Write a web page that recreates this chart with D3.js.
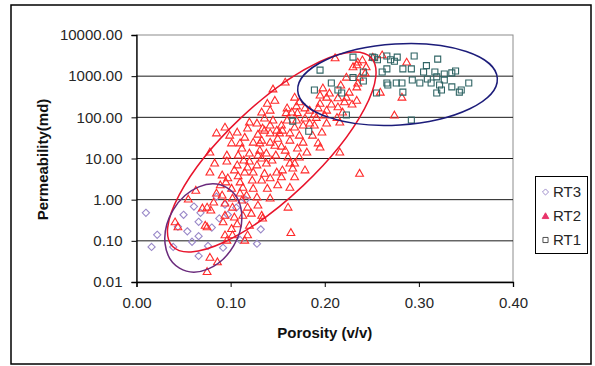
<!DOCTYPE html>
<html><head><meta charset="utf-8">
<script src="https://cdn.jsdelivr.net/npm/d3@7"></script>
<style>body{margin:0;background:#fff}svg{display:block}text{font-family:"Liberation Sans",Arial,sans-serif}</style>
</head><body><svg id="c" width="595" height="366"></svg>
<script>
// ---- data: [porosity (v/v), permeability (md)] ----
const seriesNames = ["RT3","RT2","RT1"];
const rt3 = [[0.010,0.48],[0.022,0.14],[0.016,0.071],[0.039,0.071],[0.050,0.43],[0.044,0.22],[0.061,0.68],[0.054,0.17],[0.059,0.095],[0.066,0.13],[0.066,0.29],[0.068,0.48],[0.066,0.043],[0.085,1.18],[0.088,0.35],[0.097,0.43],[0.094,0.76],[0.092,0.068],[0.080,0.21],[0.132,0.19],[0.128,0.085],[0.106,0.64],[0.116,1.0],[0.076,0.075],[0.110,0.105]];
const rt2 = [[0.145,490],[0.158,720],[0.168,310],[0.195,350],[0.198,520],[0.205,390],[0.214,300],[0.223,310],[0.226,410],[0.234,550],[0.237,950],[0.230,1700],[0.240,2500],[0.244,1700],[0.223,950],[0.211,2800],[0.234,1900],[0.235,680],[0.202,310],[0.251,2900],[0.235,2200],[0.287,2200],[0.259,410],[0.282,310],[0.261,3300],[0.217,610],[0.243,1200],
[0.139,220],[0.142,150],[0.136,96],[0.120,77],[0.128,73],[0.142,65],[0.094,58],[0.085,42],[0.099,37],[0.107,44],[0.129,39],[0.142,42],[0.149,49],[0.110,24],[0.112,18],[0.124,25],[0.131,24],[0.142,25],[0.147,21],[0.147,260],[0.160,170],[0.173,240],[0.179,170],[0.171,130],[0.184,150],[0.195,220],[0.202,150],[0.207,210],[0.214,180],[0.221,240],[0.229,210],[0.234,260],[0.155,49],[0.168,58],[0.160,86],[0.170,86],[0.191,100],[0.202,73],[0.216,77],[0.189,120],[0.200,114],[0.213,100],[0.145,86],[0.177,65],[0.136,49],[0.152,42],[0.173,37],[0.187,37],[0.197,44],[0.150,31],[0.177,25],[0.193,24],[0.154,20],[0.163,28],[0.171,18],[0.118,55],[0.274,114],[0.170,190],[0.184,73],[0.159,130],[0.133,135],[0.115,33],[0.101,24],
[0.078,14.4],[0.096,12.2],[0.108,12.2],[0.120,13.6],[0.131,16],[0.138,13.6],[0.096,8.7],[0.120,8.7],[0.118,6.2],[0.128,7.0],[0.138,7.8],[0.078,4.7],[0.091,4.0],[0.097,3.4],[0.115,4.7],[0.124,4.7],[0.136,4.4],[0.142,3.4],[0.149,4.7],[0.161,10.9],[0.155,5.3],[0.166,5.9],[0.168,3.6],[0.144,9.2],[0.158,16],[0.173,10.9],[0.168,7.8],[0.154,3.6],[0.089,2.3],[0.101,1.9],[0.113,2.0],[0.124,1.9],[0.139,1.9],[0.163,2.0],[0.091,1.3],[0.102,1.1],[0.117,1.3],[0.128,1.16],[0.142,1.1],[0.216,14.4],[0.237,4.4],[0.179,5.3],[0.095,2.7],[0.110,2.7],[0.133,3.0],[0.150,2.3],[0.107,7.0],[0.083,7.8],[0.181,14.4],[0.195,19],[0.104,5.3],[0.129,12.2],
[0.075,0.66],[0.094,0.83],[0.102,0.66],[0.118,0.66],[0.129,0.74],[0.094,0.42],[0.104,0.38],[0.113,0.42],[0.122,0.47],[0.133,0.42],[0.161,0.66],[0.075,0.22],[0.092,0.29],[0.101,0.20],[0.107,0.26],[0.120,0.24],[0.094,0.14],[0.102,0.14],[0.118,0.14],[0.164,0.16],[0.055,1.04],[0.041,0.29],[0.044,0.22],[0.070,0.63],[0.079,0.56],[0.073,0.24],[0.085,1.45],[0.082,0.88],[0.112,0.98],[0.078,0.040],[0.086,0.031],[0.075,0.018],[0.134,0.36],[0.063,1.7],[0.096,0.104],[0.115,0.104],[0.110,1.45],
[0.133,28],[0.163,42],[0.179,96],[0.165,135],[0.114,9.2],[0.133,10.3],[0.148,12.2],[0.163,7.8],[0.123,3.0],[0.108,3.8],[0.154,65],[0.134,55],[0.189,65],[0.219,135],[0.193,170]];
const rt1 = [[0.195,1400],[0.189,460],[0.207,680],[0.218,390],[0.230,930],[0.241,1260],[0.241,760],[0.230,2900],[0.253,2800],[0.223,114],[0.166,81],[0.183,46],[0.251,2900],[0.266,3100],[0.277,2900],[0.274,2300],[0.295,3100],[0.320,2600],[0.266,1500],[0.283,1500],[0.292,1500],[0.308,1800],[0.305,1260],[0.327,1130],[0.339,1340],[0.335,1200],[0.266,680],[0.282,680],[0.283,410],[0.293,810],[0.301,680],[0.309,850],[0.313,680],[0.319,960],[0.322,610],[0.327,810],[0.319,390],[0.324,460],[0.335,550],[0.343,410],[0.353,680],[0.292,86],[0.255,390],[0.267,610],[0.276,680],[0.261,1260],[0.256,2500],[0.270,2500],[0.214,460],[0.317,1260],[0.345,460]];
const xTicks = [0,0.1,0.2,0.3,0.4];
const yTicks = [0.01,0.1,1,10,100,1000,10000];
// cluster outlines: centre in data units
const ellipseCentres = {RT1:[0.2773,628], RT2:[0.1437,14.4], RT3:[0.0710,0.205]};

// ---- layout & style ----
const svg = d3.select("#c");
const L=136.5, R=513, T=35, B=282;
const x = d3.scaleLinear().domain([0,0.4]).range([L,R]);
const y = d3.scaleLog().domain([0.01,10000]).range([B,T]);
const font = '"Liberation Sans",Arial,sans-serif';

svg.append("rect").attr("x",11).attr("y",5).attr("width",580).attr("height",359)
  .attr("fill","#fff").attr("stroke","#000").attr("stroke-width",1.5);

// plot frame (top/right gray)
svg.append("rect").attr("x",L).attr("y",T).attr("width",R-L).attr("height",B-T)
  .attr("fill","none").attr("stroke","#8c8c8c").attr("stroke-width",1);

// gridlines
svg.append("g").selectAll("line").data(yTicks.slice(1,-1)).join("line")
  .attr("x1",L).attr("x2",R).attr("y1",d=>y(d)).attr("y2",d=>y(d))
  .attr("stroke","#1a1a1a").attr("stroke-width",1);

// axes
const fmt = d3.format(".2f");
const gy = svg.append("g").attr("transform",`translate(${L},0)`)
  .call(d3.axisLeft(y).tickValues(yTicks).tickFormat(fmt).tickSize(5).tickPadding(9));
const gx = svg.append("g").attr("transform",`translate(0,${B})`)
  .call(d3.axisBottom(x).tickValues(xTicks).tickFormat(fmt).tickSize(5).tickPadding(10));
[gx,gy].forEach(g=>{
  g.selectAll(".domain").attr("stroke","#000").attr("stroke-width",1.3);
  g.selectAll(".tick line").attr("stroke","#000");
  g.selectAll(".tick text").attr("font-family",font).attr("font-size",15).attr("fill","#262626");
});

// axis titles
svg.append("text").attr("x",(L+R)/2).attr("y",338).attr("text-anchor","middle")
  .attr("font-family",font).attr("font-weight","bold").attr("font-size",15).attr("fill","#111").text("Porosity (v/v)");
svg.append("text").attr("transform",`translate(48,${(T+B)/2+1}) rotate(-90)`).attr("text-anchor","middle")
  .attr("font-family",font).attr("font-weight","bold").attr("font-size",15).attr("fill","#111").text("Permeability(md)");

// marker shapes
const shapes = {
  RT3: "M0,-3.6L3.6,0L0,3.6L-3.6,0Z",
  RT2: "M0,-3.8L3.9,3L-3.9,3Z",
  RT1: "M-3,-3H3V3H-3Z"
};
const colors = {RT3:"#9988c8", RT2:"#ff2a2a", RT1:"#2f6464"};
const data = {RT3:rt3, RT2:rt2, RT1:rt1};
const pts = svg.append("g");
["RT3","RT2","RT1"].forEach(k=>{
  pts.append("g").selectAll("path").data(data[k]).join("path")
    .attr("d",shapes[k]).attr("transform",d=>`translate(${x(d[0])},${y(d[1])})`)
    .attr("fill","none").attr("stroke",colors[k]).attr("stroke-width",1.1);
});

// ellipses
const ellSpec = [
  {k:"RT2", rx:137, ry:46, a:-43.5, c:"#e8142c"},
  {k:"RT3", rx:46.7, ry:35.2, a:-59.3, c:"#6a2a7c"},
  {k:"RT1", rx:100, ry:40.5, a:-3.5, c:"#1c1c7a"}
];
svg.append("g").selectAll("ellipse").data(ellSpec).join("ellipse")
  .attr("cx",0).attr("cy",0).attr("rx",d=>d.rx).attr("ry",d=>d.ry)
  .attr("transform",d=>{const c=ellipseCentres[d.k];return `translate(${x(c[0])},${y(c[1])}) rotate(${d.a})`;})
  .attr("fill","none").attr("stroke",d=>d.c).attr("stroke-width",1.5);

// legend
const lg = svg.append("g");
lg.append("rect").attr("x",535.5).attr("y",176.5).attr("width",52).attr("height",77)
  .attr("fill","#fff").attr("stroke","#000").attr("stroke-width",1);
const legColors = {RT3:"#9988c8", RT2:"#e8336a", RT1:"#444"};
seriesNames.forEach((k,i)=>{
  const yy = 192 + i*24;
  lg.append("path").attr("d",shapes[k]).attr("transform",`translate(545.5,${yy}) scale(0.85)`)
    .attr("fill", k==="RT2" ? legColors[k] : "none").attr("stroke",legColors[k]).attr("stroke-width",1.1);
  lg.append("text").attr("x",553).attr("y",yy).attr("dy","0.36em")
    .attr("font-family",font).attr("font-size",15).attr("fill","#262626").text(k);
});
</script></body></html>
